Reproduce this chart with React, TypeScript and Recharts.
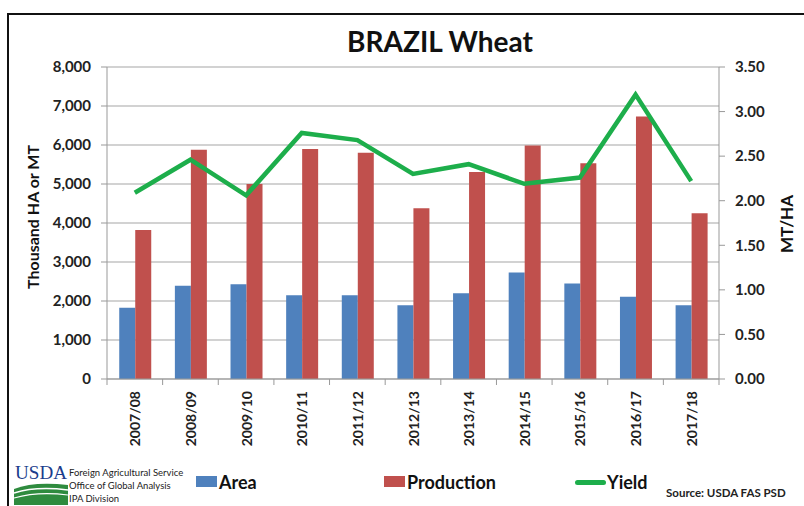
import { ComposedChart, Bar, Line, XAxis, YAxis, CartesianGrid } from "recharts";

const years = ["2007/08", "2008/09", "2009/10", "2010/11", "2011/12", "2012/13", "2013/14", "2014/15", "2015/16", "2016/17", "2017/18"];
const area = [1830, 2390, 2430, 2150, 2150, 1890, 2200, 2730, 2450, 2110, 1890];
const production = [3820, 5880, 5000, 5900, 5800, 4380, 5310, 5990, 5530, 6730, 4250];
const yieldValues = [2.09, 2.46, 2.06, 2.76, 2.68, 2.3, 2.41, 2.19, 2.26, 3.19, 2.22];
const leftTicks = [0, 1000, 2000, 3000, 4000, 5000, 6000, 7000, 8000];
const rightTicks = [0, 0.5, 1, 1.5, 2, 2.5, 3, 3.5];

const data = years.map((y, i) => ({ year: y, area: area[i], production: production[i], yield: yieldValues[i] }));

const FONT = "Lato, 'Open Sans', sans-serif";
const BLUE = "#4F81BD";
const RED = "#C0504D";
const GREEN = "#1DAE4B";
const PLOT_LEFT = 107;
const PLOT_RIGHT = 719;
const BAND = (PLOT_RIGHT - PLOT_LEFT) / years.length;

function YearTick(props: any) {
  const { x, y, payload, index } = props;
  return (
    <g>
      <line x1={x - BAND / 2} x2={x - BAND / 2} y1={y - 8} y2={y - 2} stroke="#999" />
      {index === years.length - 1 && (
        <line x1={x + BAND / 2} x2={x + BAND / 2} y1={y - 8} y2={y - 2} stroke="#999" />
      )}
      <text
        x={0}
        y={0}
        transform={`translate(${x},${y + 4}) rotate(-90)`}
        textAnchor="end"
        dominantBaseline="central"
        fontSize={14}
        fontWeight={700}
        fill="#222"
        fontFamily={FONT}
      >
        {payload.value}
      </text>
    </g>
  );
}

export default function App() {
  return (
    <div style={{ position: "absolute", left: 0, top: 0, width: 804, height: 506, background: "#fff", fontFamily: FONT, overflow: "hidden" }}>
      {/* frame */}
      <div style={{ position: "absolute", left: 7, top: 13, width: 800, height: 500, borderLeft: "2px solid #111", borderTop: "2px solid #111" }} />
      <div style={{ position: "absolute", left: 0, top: 24, width: 880, textAlign: "center", fontSize: 28, fontWeight: 700, color: "#111" }}>
        BRAZIL Wheat
      </div>
      <ComposedChart
        width={804}
        height={506}
        data={data}
        margin={{ top: 67, right: 25, bottom: 52, left: 47 }}
        barGap={0}
        barCategoryGap="22%"
      >
        <CartesianGrid horizontal vertical={false} stroke="#A6A6A6" strokeWidth={1.2} yAxisId="left" />
        <XAxis dataKey="year" height={75} axisLine={{ stroke: "#999" }} tickLine={false} tick={<YearTick />} interval={0} />
        <YAxis
          yAxisId="left"
          width={60}
          domain={[0, 8000]}
          ticks={leftTicks}
          tickFormatter={(v: number) => v.toLocaleString("en-US")}
          axisLine={{ stroke: "#999" }}
          tickLine={{ stroke: "#999" }}
          tickSize={6}
          tickMargin={10}
          tick={{ fontSize: 15, fontWeight: 700, fill: "#222", fontFamily: FONT }}
          label={{ value: "Thousand HA or MT", angle: -90, position: "insideLeft", offset: -14, dy: 66, style: { fontSize: 16, fontWeight: 700, fill: "#111", fontFamily: FONT } }}
        />
        <YAxis
          yAxisId="right"
          orientation="right"
          width={60}
          domain={[0, 3.5]}
          ticks={rightTicks}
          tickFormatter={(v: number) => v.toFixed(2)}
          axisLine={{ stroke: "#999" }}
          tickLine={{ stroke: "#999" }}
          tickSize={6}
          tickMargin={10}
          tick={{ fontSize: 15, fontWeight: 700, fill: "#222", fontFamily: FONT, textAnchor: "start" }}
          label={{ value: "MT/HA", angle: -90, position: "insideRight", offset: -8, dy: -28, style: { fontSize: 17, fontWeight: 700, fill: "#111", fontFamily: FONT } }}
        />
        <Bar yAxisId="left" dataKey="area" fill={BLUE} isAnimationActive={false} />
        <Bar yAxisId="left" dataKey="production" fill={RED} isAnimationActive={false} />
        <Line yAxisId="right" type="linear" dataKey="yield" stroke={GREEN} strokeWidth={4.5} dot={false} isAnimationActive={false} />
      </ComposedChart>

      {/* USDA logo */}
      <div style={{ position: "absolute", left: 14, top: 463, width: 54, height: 42 }}>
        <svg width={54} height={42}>
          <text x={1} y={16} fontFamily="'Liberation Serif', serif" fontSize={19} fill="#1B3C8C" textLength={52} lengthAdjust="spacingAndGlyphs">USDA</text>
          <path d="M0 26 Q20 18 54 22 L54 42 L0 42 Z" fill="#2E8B3E" />
          <path d="M0 30 Q22 23 54 27" stroke="#fff" strokeWidth={1.5} fill="none" />
          <path d="M0 35 Q24 28 54 32" stroke="#fff" strokeWidth={1.2} fill="none" />
        </svg>
      </div>
      <div style={{ position: "absolute", left: 69, top: 466, fontSize: 9.5, lineHeight: "13px", color: "#222" }}>
        <div>Foreign Agricultural Service</div>
        <div>Office of Global Analysis</div>
        <div>IPA Division</div>
      </div>

      {/* legend */}
      <div style={{ position: "absolute", left: 196, top: 476, width: 21, height: 11, background: BLUE }} />
      <div style={{ position: "absolute", left: 219, top: 472, fontSize: 18, fontWeight: 700, color: "#111", lineHeight: "20px" }}>Area</div>
      <div style={{ position: "absolute", left: 384, top: 476, width: 21, height: 11, background: RED }} />
      <div style={{ position: "absolute", left: 407, top: 472, fontSize: 18, fontWeight: 700, color: "#111", lineHeight: "20px" }}>Production</div>
      <div style={{ position: "absolute", left: 575, top: 480, width: 31, height: 5, borderRadius: 3, background: GREEN }} />
      <div style={{ position: "absolute", left: 607, top: 472, fontSize: 18, fontWeight: 700, color: "#111", lineHeight: "20px" }}>Yield</div>
      <div style={{ position: "absolute", left: 666, top: 486, fontSize: 11.5, fontWeight: 700, color: "#222" }}>Source: USDA FAS PSD</div>
    </div>
  );
}
